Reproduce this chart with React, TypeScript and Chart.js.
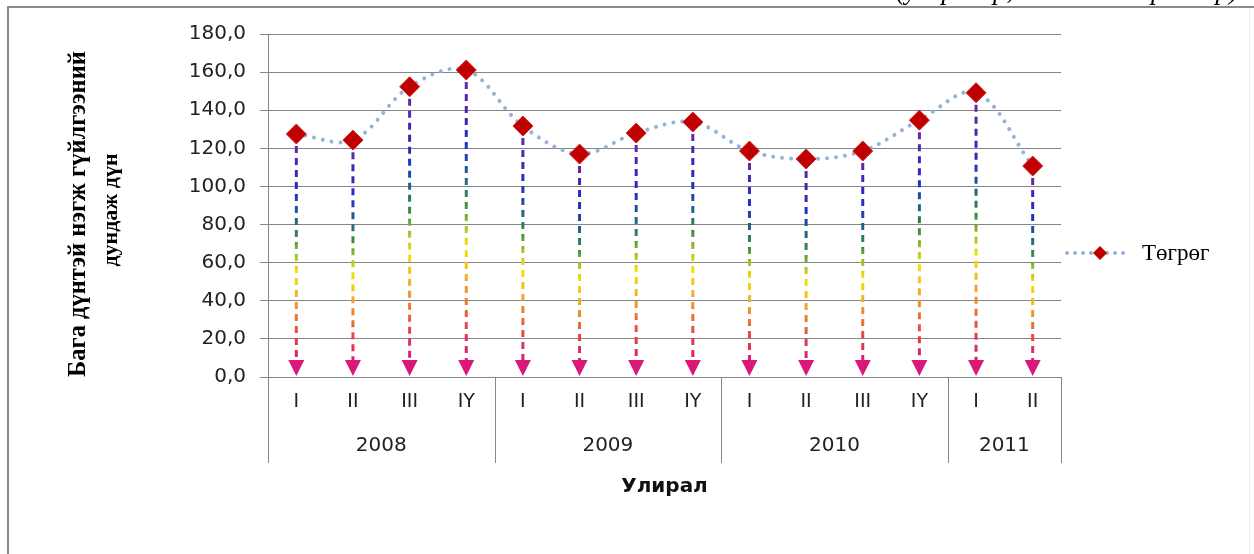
import React, { useEffect, useRef } from "react";
import { Chart, registerables } from "chart.js";
Chart.register(...registerables);

const quarters = ["I", "II", "III", "IY", "I", "II", "III", "IY", "I", "II", "III", "IY", "I", "II"];
const years = ["2008", "2009", "2010", "2011"];
const yearSpans = [4, 4, 4, 2];
const values = [127.5, 124.3, 152.3, 161.1, 131.7, 117.0, 128.0, 133.8, 118.6, 114.4, 118.6, 134.8, 149.2, 110.7];
const yMin = 0;
const yMax = 180;
const yStep = 20;
const seriesName = "Төгрөг";
const yTitleLines = ["Бага дүнтэй нэгж гүйлгээний", "дундаж дүн"];
const xTitle = "Улирал";
const unitNote = "(улирлаар, мянган төгрөгөөр)";

const GRID = "#868686";
const dropStops: [number, string][] = [
  [0, "#7030A0"],
  [0.14, "#4A22B4"],
  [0.26, "#1F2FC8"],
  [0.38, "#1F6A80"],
  [0.46, "#3C8C3C"],
  [0.53, "#9CC02A"],
  [0.61, "#F2E400"],
  [0.71, "#F4B02A"],
  [0.8, "#EE7A2E"],
  [0.9, "#E2404A"],
  [1, "#D81B78"],
];

const decorPlugin = {
  id: "decor",
  beforeDatasetsDraw(chart: any) {
    const ctx = chart.ctx;
    const meta = chart.getDatasetMeta(0);
    const yScale = chart.scales.y;
    const zeroY = yScale.getPixelForValue(0);
    const arrowTop = zeroY - 17;
    ctx.save();
    meta.data.forEach((pt: any) => {
      const g = ctx.createLinearGradient(0, pt.y, 0, arrowTop);
      dropStops.forEach(([o, c]) => g.addColorStop(o, c));
      ctx.strokeStyle = g;
      ctx.lineWidth = 3;
      ctx.setLineDash([7, 5]);
      ctx.beginPath();
      ctx.moveTo(pt.x, pt.y);
      ctx.lineTo(pt.x, arrowTop + 4);
      ctx.stroke();
      ctx.setLineDash([]);
      ctx.fillStyle = "#DA1878";
      ctx.beginPath();
      ctx.moveTo(pt.x - 8, arrowTop);
      ctx.lineTo(pt.x + 8, arrowTop);
      ctx.lineTo(pt.x, zeroY - 1);
      ctx.closePath();
      ctx.fill();
    });
    ctx.restore();
  },
  afterDraw(chart: any) {
    const ctx = chart.ctx;
    const area = chart.chartArea;
    const zeroY = chart.scales.y.getPixelForValue(0);
    const sepBottom = zeroY + 86;
    ctx.save();
    // frame
    ctx.strokeStyle = "#8a8a8a";
    ctx.lineWidth = 2;
    ctx.beginPath();
    ctx.moveTo(8, 554);
    ctx.lineTo(8, 7);
    ctx.lineTo(1254, 7);
    ctx.stroke();
    ctx.strokeStyle = "#ececec";
    ctx.lineWidth = 1;
    ctx.beginPath();
    ctx.moveTo(1249.5, 8);
    ctx.lineTo(1249.5, 554);
    ctx.stroke();

    // year separators and labels
    const step = (area.right - area.left) / quarters.length;
    ctx.strokeStyle = GRID;
    ctx.lineWidth = 1;
    let idx = 0;
    const bounds: number[] = [area.left];
    yearSpans.forEach((s) => {
      idx += s;
      bounds.push(area.left + idx * step);
    });
    bounds.forEach((bx) => {
      const x = Math.round(bx) + 0.5;
      ctx.beginPath();
      ctx.moveTo(x, zeroY);
      ctx.lineTo(x, sepBottom);
      ctx.stroke();
    });
    ctx.fillStyle = "#222";
    ctx.font = '20px "DejaVu Sans"';
    ctx.textAlign = "center";
    ctx.textBaseline = "middle";
    years.forEach((y, i) => {
      ctx.fillText(y, (bounds[i] + bounds[i + 1]) / 2, zeroY + 69);
    });

    // x title
    ctx.font = 'bold 20px "DejaVu Sans"';
    ctx.fillStyle = "#111";
    ctx.fillText(xTitle, (area.left + area.right) / 2, 487);

    // y title
    ctx.fillStyle = "#000";
    const titleX = [79, 111];
    const titleY = [214, 210];
    const titleFonts = ['bold 24.5px "Liberation Serif"', 'bold 22px "Liberation Serif"'];
    yTitleLines.forEach((line, i) => {
      ctx.save();
      ctx.font = titleFonts[i];
      ctx.translate(titleX[i], titleY[i]);
      ctx.rotate(-Math.PI / 2);
      ctx.textAlign = "center";
      ctx.textBaseline = "middle";
      ctx.fillText(line, 0, 0);
      ctx.restore();
    });

    // legend
    const ly = 253;
    ctx.strokeStyle = "#95B3D7";
    ctx.lineWidth = 4;
    ctx.lineCap = "round";
    ctx.setLineDash([0.001, 8]);
    ctx.beginPath();
    ctx.moveTo(1067, ly);
    ctx.lineTo(1131, ly);
    ctx.stroke();
    ctx.setLineDash([]);
    ctx.fillStyle = "#C00000";
    ctx.beginPath();
    ctx.moveTo(1100, ly - 7);
    ctx.lineTo(1107, ly);
    ctx.lineTo(1100, ly + 7);
    ctx.lineTo(1093, ly);
    ctx.closePath();
    ctx.fill();
    ctx.fillStyle = "#000";
    ctx.font = '23px "Liberation Serif"';
    ctx.textAlign = "left";
    ctx.textBaseline = "middle";
    ctx.fillText(seriesName, 1142, ly + 1);

    // clipped note at top
    ctx.save();
    ctx.beginPath();
    ctx.rect(0, 0, 1254, 6);
    ctx.clip();
    ctx.font = 'italic 27px "Liberation Serif"';
    ctx.textAlign = "right";
    ctx.textBaseline = "alphabetic";
    ctx.fillStyle = "#000";
    ctx.fillText(unitNote, 1238, -1);
    ctx.restore();

    ctx.restore();
  },
};

export default function App() {
  const ref = useRef<HTMLCanvasElement>(null);
  useEffect(() => {
    if (!ref.current) return;
    const chart = new Chart(ref.current, {
      type: "line",
      data: {
        labels: quarters,
        datasets: [
          {
            label: seriesName,
            data: values,
            borderColor: "#95B3D7",
            borderWidth: 4,
            borderDash: [0.001, 9],
            borderCapStyle: "round",
            tension: 0.35,
            pointStyle: "rectRot",
            pointRadius: 10,
            pointHoverRadius: 10,
            pointBackgroundColor: "#C00000",
            pointBorderColor: "#CC2020",
            pointBorderWidth: 1,
          },
        ],
      },
      options: {
        responsive: false,
        animation: false,
        events: [],
        layout: { padding: { top: 34, right: 193, bottom: 0, left: 0 } },
        plugins: {
          legend: { display: false },
          tooltip: { enabled: false },
          title: { display: false },
        },
        scales: {
          x: {
            type: "category",
            offset: true,
            grid: { display: false, drawTicks: false },
            border: { display: true, color: GRID, width: 1 },
            ticks: {
              padding: 14,
              color: "#222",
              font: { family: "DejaVu Sans", size: 19 },
              maxRotation: 0,
              autoSkip: false,
            },
            afterFit(scale: any) {
              scale.height = 177;
            },
          },
          y: {
            min: yMin,
            max: yMax,
            ticks: {
              stepSize: yStep,
              padding: 14,
              color: "#222",
              font: { family: "DejaVu Sans", size: 20 },
              callback: (v: any) => Number(v).toFixed(1).replace(".", ","),
            },
            grid: { color: GRID, lineWidth: 1, tickLength: 8, drawTicks: true },
            border: { display: true, color: GRID, width: 1 },
            afterFit(scale: any) {
              scale.width = 268;
            },
          },
        },
      },
      plugins: [decorPlugin],
    });
    return () => chart.destroy();
  }, []);
  return (
    <div style={{ position: "absolute", left: 0, top: 0, width: 1254, height: 554, background: "#fff" }}>
      <canvas ref={ref} width={1254} height={554} style={{ display: "block" }} />
    </div>
  );
}
